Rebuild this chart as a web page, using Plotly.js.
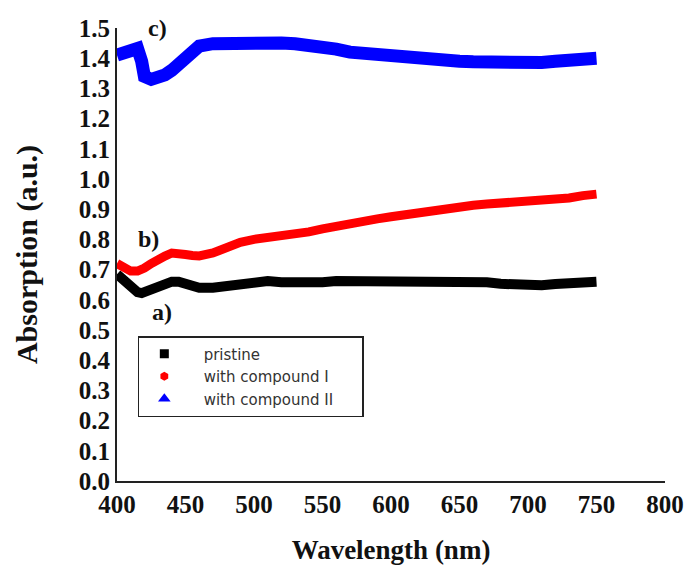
<!DOCTYPE html>
<html>
<head>
<meta charset="utf-8">
<script src="https://cdn.plot.ly/plotly-3.0.1.min.js"></script>
<style>html,body{margin:0;padding:0;background:#fff;}</style>
</head>
<body>
<div id="chart" style="width:688px;height:565px;"></div>
<script>
// Wavelength (nm)
const wavelength = [400, 405, 410, 415, 418, 420, 425, 430, 435, 440, 445, 450, 455, 460, 470, 480, 490, 500, 510, 520, 530, 540, 550, 560, 570, 580, 590, 600, 610, 620, 630, 640, 650, 660, 670, 680, 690, 700, 710, 720, 730, 740, 750];
// a) pristine
const pristine = [0.685, 0.665, 0.640, 0.625, 0.622, 0.625, 0.635, 0.645, 0.655, 0.660, 0.660, 0.652, 0.645, 0.640, 0.640, 0.645, 0.655, 0.662, 0.662, 0.658, 0.656, 0.656, 0.658, 0.662, 0.662, 0.658, 0.658, 0.658, 0.660, 0.662, 0.665, 0.666, 0.666, 0.663, 0.658, 0.653, 0.650, 0.648, 0.648, 0.652, 0.657, 0.660, 0.660];
// b) with compound I
const compoundI = [0.720, 0.705, 0.695, 0.695, 0.698, 0.705, 0.720, 0.735, 0.745, 0.755, 0.755, 0.750, 0.747, 0.745, 0.755, 0.775, 0.790, 0.800, 0.805, 0.810, 0.815, 0.825, 0.835, 0.845, 0.855, 0.860, 0.868, 0.875, 0.882, 0.890, 0.897, 0.903, 0.910, 0.913, 0.917, 0.920, 0.921, 0.922, 0.925, 0.930, 0.937, 0.945, 0.950];
// c) with compound II
const compoundII = [1.410, 1.415, 1.420, 1.432, 1.390, 1.340, 1.330, 1.335, 1.345, 1.360, 1.380, 1.400, 1.425, 1.440, 1.448, 1.450, 1.450, 1.450, 1.450, 1.450, 1.448, 1.445, 1.440, 1.430, 1.420, 1.415, 1.410, 1.405, 1.400, 1.397, 1.395, 1.392, 1.390, 1.388, 1.386, 1.384, 1.384, 1.384, 1.386, 1.390, 1.395, 1.400, 1.400];

const seriesNames = ["pristine", "with compound I", "with compound II"];
const curveLabels = ["a)", "b)", "c)"];
const xTicks = [400, 450, 500, 550, 600, 650, 700, 750, 800];
const yTicks = [0.0, 0.1, 0.2, 0.3, 0.4, 0.5, 0.6, 0.7, 0.8, 0.9, 1.0, 1.1, 1.2, 1.3, 1.4, 1.5];

const colors = ["#000000", "#ff0000", "#0000ff"];
const symbols = ["square", "hexagon", "triangle-up"];
const widths = [10, 9, 13];
const ys = [pristine, compoundI, compoundII];
const nb = "\u00A0\u00A0\u00A0";
const tail = "\u00A0\u00A0\u00A0\u00A0\u00A0";

const traces = [];
ys.forEach((y, i) => {
  traces.push({x: wavelength, y: y, type: "scatter", mode: "lines",
    line: {color: colors[i], width: widths[i]}, showlegend: false, hoverinfo: "skip"});
});
ys.forEach((y, i) => {
  traces.push({x: [null], y: [null], type: "scatter", mode: "markers", name: nb + seriesNames[i] + tail,
    marker: {color: colors[i], symbol: symbols[i], size: i === 2 ? 11 : 9}, showlegend: true});
});

const serifBold = {family: "Liberation Serif, Times New Roman, serif", color: "#111", weight: "bold"};

const layout = {
  width: 688, height: 565,
  margin: {l: 117, r: 23, t: 28, b: 84, pad: 0},
  paper_bgcolor: "#fff", plot_bgcolor: "#fff",
  showlegend: true,
  legend: {x: 0.038, y: 0.32, xanchor: "left", yanchor: "top",
    bordercolor: "#222", borderwidth: 1.5, bgcolor: "#fff",
    font: {family: "DejaVu Sans, Arial, sans-serif", size: 15, color: "#333"},
    itemwidth: 40, tracegroupgap: 0},
  xaxis: {range: [400, 800], tickvals: xTicks, ticktext: xTicks.map(String),
    showline: true, linewidth: 2, linecolor: "#222", showgrid: false, zeroline: false,
    ticks: "", tickfont: Object.assign({size: 25}, serifBold),
    title: {text: "Wavelength (nm)", font: Object.assign({size: 27}, serifBold), standoff: 28}},
  yaxis: {range: [0, 1.5], tickvals: yTicks, ticktext: yTicks.map(v => v.toFixed(1)),
    showline: true, linewidth: 2, linecolor: "#222", showgrid: false, zeroline: false,
    ticks: "", tickfont: Object.assign({size: 25}, serifBold),
    title: {text: "Absorption (a.u.)", font: Object.assign({size: 30}, serifBold), standoff: 32}},
  annotations: [
    {x: 433, y: 0.56, xref: "x", yref: "y", text: curveLabels[0], showarrow: false,
      xanchor: "center", yanchor: "middle", font: Object.assign({size: 24}, serifBold)},
    {x: 423, y: 0.80, xref: "x", yref: "y", text: curveLabels[1], showarrow: false,
      xanchor: "center", yanchor: "middle", font: Object.assign({size: 24}, serifBold)},
    {x: 429.5, y: 1.0, xref: "x", yref: "paper", text: curveLabels[2], showarrow: false,
      xanchor: "center", yanchor: "middle", font: Object.assign({size: 24}, serifBold)}
  ]
};

Plotly.newPlot("chart", traces, layout, {displayModeBar: false, staticPlot: true});
</script>
</body>
</html>
